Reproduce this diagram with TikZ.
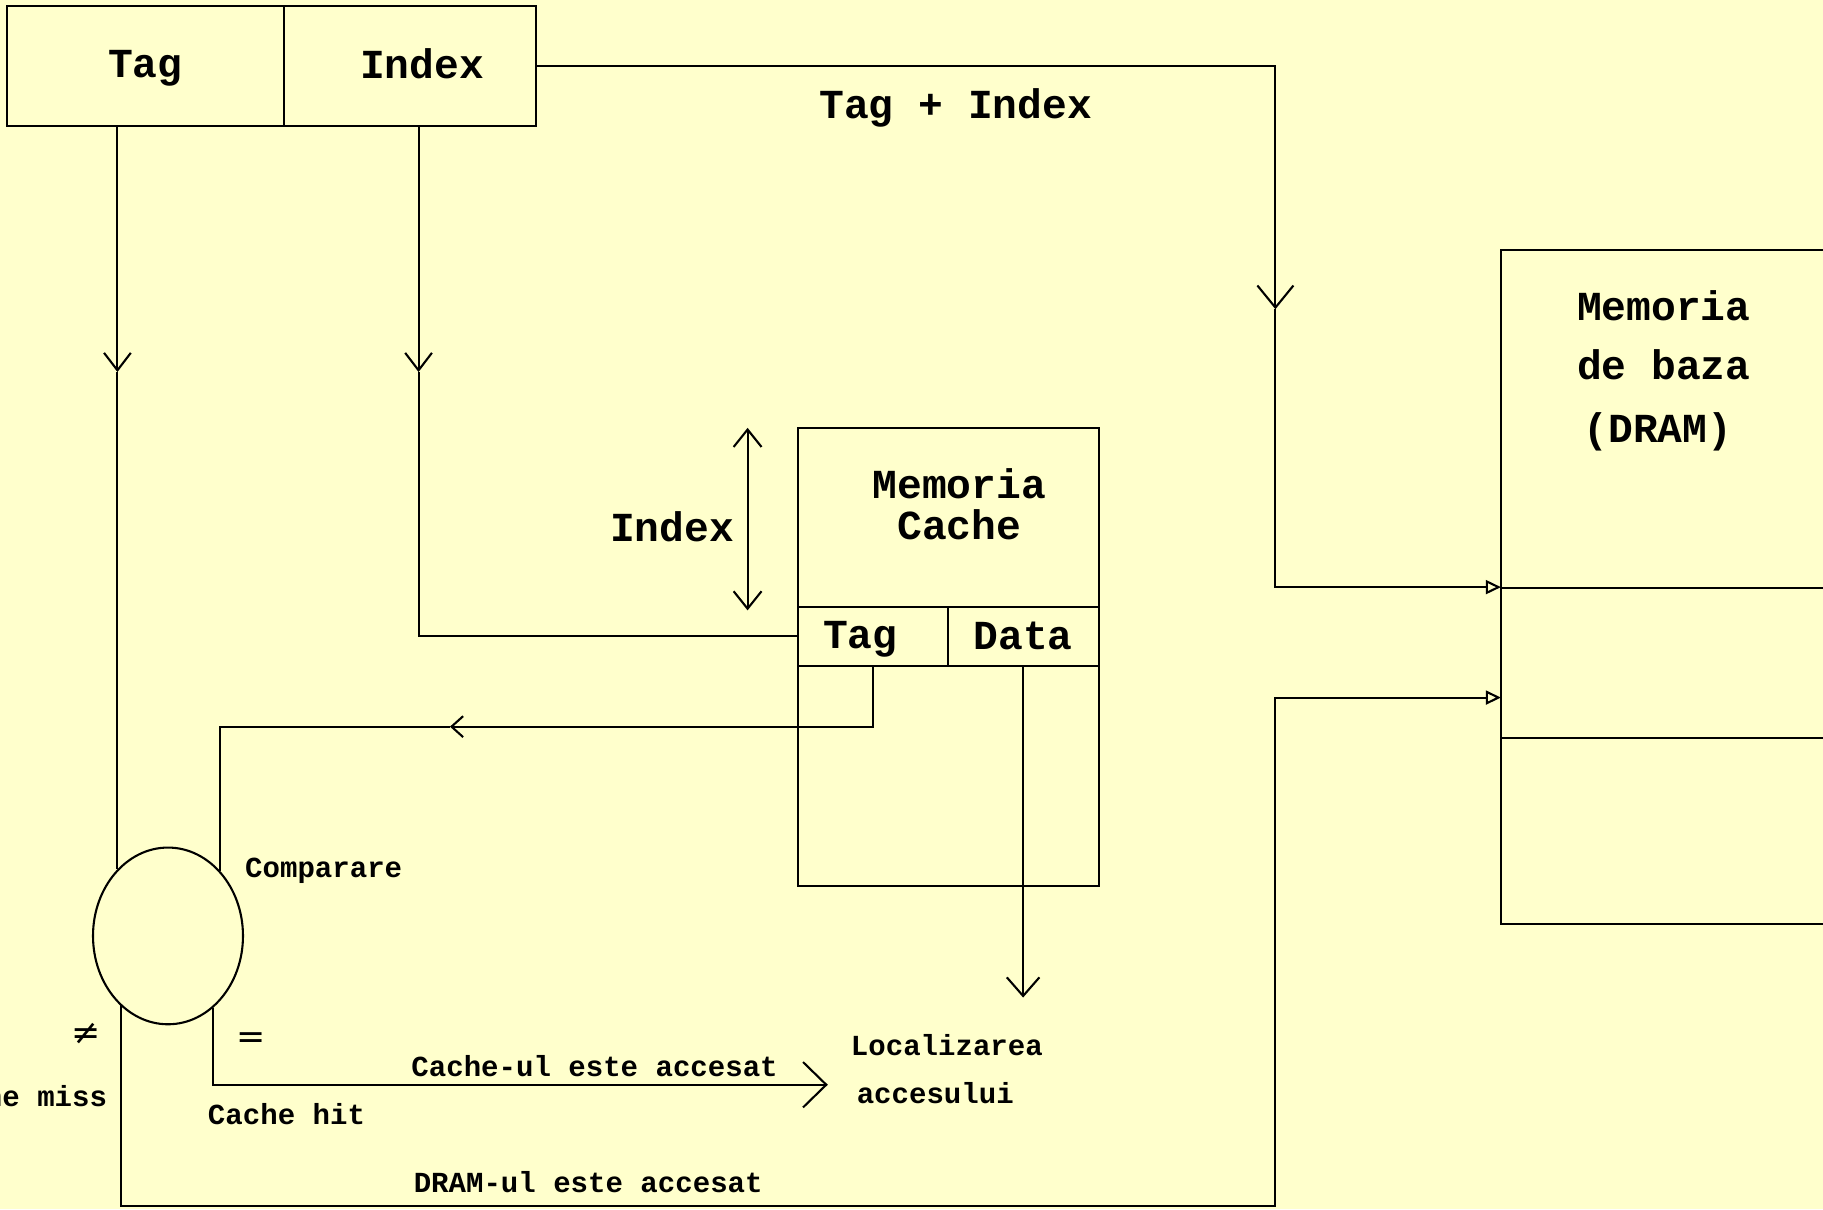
\documentclass[tikz,border=0pt]{standalone}
\usepackage{fontspec}
\setmonofont{Liberation Mono}
\newfontfamily\symfont{DejaVu Sans}
\usetikzlibrary{arrows.meta,shapes.geometric}
\definecolor{bg}{HTML}{FFFFCC}
\begin{document}
\begin{tikzpicture}[x=1pt,y=-1pt,line width=1.8pt,
  big/.style={font=\fontsize{35.5}{35}\selectfont\ttfamily\bfseries,inner sep=0pt},
  small/.style={font=\fontsize{25}{30}\selectfont\ttfamily\bfseries,inner sep=0pt},
  sym/.style={font=\fontsize{30}{30}\selectfont\symfont,inner sep=0pt},
  barbS/.style={-{Straight Barb[length=15pt,width=23pt]}},
  barbT/.style={-{Straight Barb[length=19pt,width=31pt]}},
  barbL/.style={-{Straight Barb[length=10pt,width=18pt]}},
  barbD/.style={-{Straight Barb[length=16pt,width=28pt]}},
  barbH/.style={-{Straight Barb[length=20pt,width=39pt]}},
  dbl/.style={{Straight Barb[length=15pt,width=24pt]}-{Straight Barb[length=15pt,width=24pt]}},
  tri/.style={-{Triangle[open,length=13pt,width=12pt]}}]
\fill[bg] (0,0) rectangle (1568,1040);
\useasboundingbox (0,0) rectangle (1568,1040);
\clip (0,0) rectangle (1568,1040);

% address register
\coordinate (tb1) at (6,5);
\coordinate (tb2) at (461,108);
\draw (tb1) rectangle (tb2);
\draw (244,5) -- (244,108);
\node[big] (tagtop) at (125,59) {Tag};
\node[big] (idxtop) at (363,55) {Index};

% comparator
\node[draw,ellipse,minimum width=129,minimum height=152,inner sep=0pt] (cmp) at (144.5,805) {};

% cache memory
\coordinate (c1) at (686,368);
\coordinate (c2) at (945,762);
\draw (c1) rectangle (c2);
\draw (686,522) -- (945,522);
\draw (686,573) -- (945,573);
\draw (815,522) -- (815,573);
\node[big,align=center] (cachet) at (825,434) {Memoria\\Cache};
\node[big] (ctag) at (740,550) {Tag};
\node[big] (cdata) at (880,547) {Data};
\coordinate (ix1) at (643,368);
\coordinate (ix2) at (643,525);
\draw[dbl] (ix1) -- (ix2);
\node[big] (idxlab) at (578,453) {Index};

% DRAM
\draw (1600,215) -- (1291,215) -- (1291,795) -- (1600,795);
\draw (1291,506) -- (1600,506);
\draw (1291,635) -- (1600,635);
\node[big] (dr1) at (1431,263) {Memoria};
\node[big] (dr2) at (1431,314) {de baza};
\node[big] (dr3) at (1426,371) {(DRAM)};

% Tag + Index to DRAM
\coordinate (ti0) at (461,57);
\coordinate (ti1) at (1097,57);
\coordinate (tiA) at (1097,266);
\coordinate (ti2) at (1097,505);
\coordinate (dramin1) at (1291,505);
\draw[barbT] (ti0) -- (ti1) -- (tiA);
\draw[tri] (tiA) -- (ti2) -- (dramin1);
\node[big] (tilab) at (822,93) {Tag + Index};

% Tag line
\coordinate (tago) at (101,108);
\coordinate (tagA) at (101,320);
\draw[barbS] (tago) -- (tagA);
\draw (tagA) -- (tagA |- cmp.127.8);

% Index line
\coordinate (idxo) at (360,108);
\coordinate (idxA) at (360,320);
\coordinate (idxc) at (360,547);
\draw[barbS] (idxo) -- (idxA);
\draw (idxA) -- (idxc) -- (idxc -| c1);

% cache tag to comparator
\coordinate (ct) at (751,573);
\coordinate (ct1) at (751,625);
\coordinate (ctA) at (387,625);
\coordinate (ct2) at (189,625);
\draw[barbL] (ct) -- (ct1) -- (ctA);
\draw (ctA) -- (ct2) -- (ct2 |- cmp.51);

% data out
\coordinate (dt0) at (880,573);
\coordinate (dt1) at (880,858);
\draw[barbD] (dt0) -- (dt1);

% cache hit
\coordinate (h1) at (183,933);
\coordinate (h2) at (712,933);
\draw[barbH] (h1 |- cmp.302.3) -- (h1) -- (h2);

% cache miss to DRAM
\coordinate (m1) at (104,1037);
\coordinate (m2) at (1097,1037);
\coordinate (m3) at (1097,600);
\coordinate (dramin2) at (1291,600);
\draw[tri] (m1 |- cmp.235.5) -- (m1) -- (m2) -- (m3) -- (dramin2);

% labels
\node[small,anchor=west] (cmplab) at (210,749) {Comparare};
\node[sym] (neq) at (74,889) {≠};
\node[sym] (eq) at (216,895) {=};
\node[small,anchor=east] (miss) at (93,943) {Cache miss};
\node[small,anchor=west] (hit) at (178,958) {Cache hit};
\node[small,anchor=west] (cacc) at (353,917) {Cache-ul este accesat};
\node[small,anchor=west] (loc1) at (731,899) {Localizarea};
\node[small,anchor=west] (loc2) at (736,940) {accesului};
\node[small,anchor=west] (dacc) at (355,1017) {DRAM-ul este accesat};
\end{tikzpicture}
\end{document}
